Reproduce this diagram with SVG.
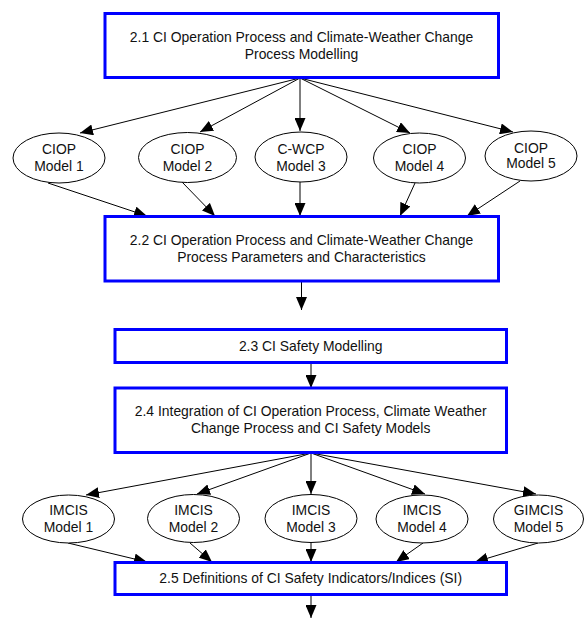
<svg xmlns="http://www.w3.org/2000/svg" width="584" height="619" viewBox="0 0 584 619">
<defs>
<marker id="arr" markerUnits="userSpaceOnUse" markerWidth="13" markerHeight="11" refX="13" refY="5.5" orient="auto">
<path d="M0,0 L13,5.5 L0,11 z" fill="#000"/>
</marker>
<style>
.box{fill:#fff;stroke:#0000ff;stroke-width:3}
.ell{fill:#fff;stroke:#000;stroke-width:1}
.t{font-family:"Liberation Sans",Arial,sans-serif;font-size:13.9px;fill:#111;text-anchor:middle}
.c line{stroke:#000;stroke-width:1;marker-end:url(#arr)}
</style>
</defs>
<rect width="584" height="619" fill="#fff"/>
<g class="c" id="connectors">
<line x1="300" y1="78" x2="80" y2="133"/>
<line x1="300" y1="78" x2="200" y2="132"/>
<line x1="300" y1="78" x2="300" y2="131"/>
<line x1="300" y1="78" x2="410" y2="133"/>
<line x1="300" y1="78" x2="513" y2="132"/>
<line x1="48" y1="183" x2="147" y2="216"/>
<line x1="182" y1="182" x2="215" y2="216"/>
<line x1="300" y1="182" x2="300" y2="216"/>
<line x1="415" y1="183" x2="400" y2="216"/>
<line x1="520" y1="181" x2="467" y2="216"/>
<line x1="301.5" y1="281" x2="301.5" y2="310"/>
<line x1="311" y1="362" x2="311" y2="388"/>
<line x1="311" y1="453" x2="86" y2="495"/>
<line x1="311" y1="453" x2="197" y2="494"/>
<line x1="311" y1="453" x2="311" y2="494"/>
<line x1="311" y1="453" x2="425" y2="494"/>
<line x1="311" y1="453" x2="536" y2="494"/>
<line x1="68" y1="543" x2="147" y2="562"/>
<line x1="190" y1="543" x2="212" y2="562"/>
<line x1="311" y1="543" x2="311" y2="562"/>
<line x1="423" y1="543" x2="396" y2="562"/>
<line x1="538" y1="543" x2="475" y2="562"/>
<line x1="311" y1="594" x2="311" y2="618"/>
</g>
<g id="n21"><rect class="box" x="105" y="13.5" width="393.5" height="64"/>
<text class="t" x="301.5" y="42.3">2.1 CI Operation Process and Climate-Weather Change</text>
<text class="t" x="301.5" y="59">Process Modelling</text></g>
<g id="m1"><ellipse class="ell" cx="59" cy="158" rx="46" ry="25"/><text class="t" x="59" y="154">CIOP</text><text class="t" x="59" y="170.7">Model 1</text></g>
<g id="m2"><ellipse class="ell" cx="187.5" cy="157.5" rx="49" ry="25"/><text class="t" x="187.5" y="154">CIOP</text><text class="t" x="187.5" y="170.7">Model 2</text></g>
<g id="m3"><ellipse class="ell" cx="301" cy="157" rx="46" ry="25"/><text class="t" x="301" y="154">C-WCP</text><text class="t" x="301" y="170.7">Model 3</text></g>
<g id="m4"><ellipse class="ell" cx="419.5" cy="158" rx="46" ry="25"/><text class="t" x="419.5" y="154">CIOP</text><text class="t" x="419.5" y="170.7">Model 4</text></g>
<g id="m5"><ellipse class="ell" cx="531" cy="156" rx="46" ry="25"/><text class="t" x="531" y="152.7">CIOP</text><text class="t" x="531" y="168.4">Model 5</text></g>
<g id="n22"><rect class="box" x="105" y="216.5" width="393.5" height="64.5"/>
<text class="t" x="301.5" y="245">2.2 CI Operation Process and Climate-Weather Change</text>
<text class="t" x="301.5" y="261.7">Process Parameters and Characteristics</text></g>
<g id="n23"><rect class="box" x="115" y="329.5" width="391.5" height="33"/>
<text class="t" x="310.7" y="350.7">2.3 CI Safety Modelling</text></g>
<g id="n24"><rect class="box" x="115" y="388" width="391.5" height="64.5"/>
<text class="t" x="310.7" y="416">2.4 Integration of CI Operation Process, Climate Weather</text>
<text class="t" x="310.7" y="432.7">Change Process and CI Safety Models</text></g>
<g id="i1"><ellipse class="ell" cx="68.5" cy="519" rx="46" ry="24"/><text class="t" x="68.5" y="515">IMCIS</text><text class="t" x="68.5" y="531.7">Model 1</text></g>
<g id="i2"><ellipse class="ell" cx="193.5" cy="518.5" rx="46" ry="24"/><text class="t" x="193.5" y="515">IMCIS</text><text class="t" x="193.5" y="531.7">Model 2</text></g>
<g id="i3"><ellipse class="ell" cx="311" cy="518.5" rx="46" ry="24"/><text class="t" x="311" y="515">IMCIS</text><text class="t" x="311" y="531.7">Model 3</text></g>
<g id="i4"><ellipse class="ell" cx="422" cy="519" rx="46" ry="24"/><text class="t" x="422" y="515">IMCIS</text><text class="t" x="422" y="531.7">Model 4</text></g>
<g id="i5"><ellipse class="ell" cx="538.5" cy="519" rx="45" ry="24"/><text class="t" x="538.5" y="515">GIMCIS</text><text class="t" x="538.5" y="531.7">Model 5</text></g>
<g id="n25"><rect class="box" x="115" y="562.5" width="391.5" height="32"/>
<text class="t" x="310.7" y="582.7">2.5 Definitions of CI Safety Indicators/Indices (SI)</text></g>
</svg>
